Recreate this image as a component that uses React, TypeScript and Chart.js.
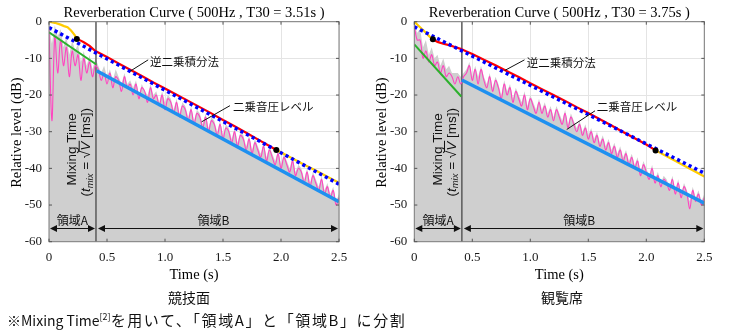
import React, { useEffect, useRef } from "react";
import { Chart, registerables } from "chart.js";
Chart.register(...registerables);

// sample times (s)
const TIME = [0,0.025,0.05,0.075,0.1,0.125,0.15,0.175,0.2,0.225,0.25,0.275,0.3,0.325,0.35,0.375,0.4,0.425,0.45,0.475,0.5,0.525,0.55,0.575,0.6,0.625,0.65,0.675,0.7,0.725,0.75,0.775,0.8,0.825,0.85,0.875,0.9,0.925,0.95,0.975,1,1.025,1.05,1.075,1.1,1.125,1.15,1.175,1.2,1.225,1.25,1.275,1.3,1.325,1.35,1.375,1.4,1.425,1.45,1.475,1.5,1.525,1.55,1.575,1.6,1.625,1.65,1.675,1.7,1.725,1.75,1.775,1.8,1.825,1.85,1.875,1.9,1.925,1.95,1.975,2,2.025,2.05,2.075,2.1,2.125,2.15,2.175,2.2,2.225,2.25,2.275,2.3,2.325,2.35,2.375,2.4,2.425,2.45,2.475,2.5];

const X_TICKS = [0, 0.5, 1, 1.5, 2, 2.5];
const Y_TICKS = [0, -10, -20, -30, -40, -50, -60];

// ---- 競技面 (left) ----
const L_PINK = [-2,-27,-4,-14,-5,-12,-7,-15,-8,-12,-9,-16,-10,-14,-11,-15,-12,
  -13,-16,-14,-17,-14,-18,-15,-16,-19,-15,-18,-17,-20,-17,-21,-18,-19,-22,-18,-21,-20,-23,-20,-24,
  -21,-22,-25,-22,-26,-23,-24,-27,-24,-28,-25,-26,-29,-26,-30,-27,-28,-31,-28,-32,
  -29,-30,-33,-30,-34,-31,-32,-35,-32,-36,-33,-35,-37,-34,-38,-35,-37,-39,-36,-40,
  -37,-39,-41,-38,-42,-40,-41,-44,-41,-45,-42,-44,-46,-43,-47,-45,-48,-46,-50,-48];
const L_GRAY = [-1,-6,-1,-4,-2,-7,-4,-9,-5,-8,-6,-11,-8,-12,-9,-13,-10,
  -12,-14,-12,-15,-13,-16,-13,-15,-17,-14,-17,-16,-18,-16,-20,-17,-19,-20,-17,-20,-19,-22,-19,-22,
  -20,-21,-24,-21,-25,-22,-23,-26,-23,-27,-24,-25,-28,-25,-29,-26,-27,-30,-27,-31,
  -28,-29,-32,-29,-33,-30,-31,-34,-31,-35,-32,-34,-36,-33,-37,-34,-36,-38,-35,-39,
  -36,-38,-40,-37,-41,-39,-40,-43,-40,-44,-41,-43,-45,-42,-46,-44,-47,-45,-49,-47];
const L_GREEN = [[0, -2.9], [0.405, -11.6]];
const L_BLUE = [[0.41, -13.4], [2.5, -49.1]];
const L_DOTTED = [[0, -1.6], [2.5, -44.3]];
const L_YELLOW_HEAD = [[0, 0], [0.05, -0.3], [0.1, -0.8], [0.13, -1.2], [0.16, -1.5], [0.19, -2.4], [0.22, -3.6], [0.24, -4.7]];
const L_RED = [[0.24, -4.7], [0.27, -5.1], [0.3, -5.6], [0.35, -6.6], [0.4, -8.0], [0.45, -8.8], [0.5, -9.6], [0.6, -11.4], [0.7, -13.1], [0.8, -14.8], [0.9, -16.6], [1.0, -18.2], [1.1, -19.9], [1.2, -21.6], [1.3, -23.3], [1.4, -25.0], [1.5, -26.8], [1.6, -28.5], [1.7, -30.3], [1.8, -32.1], [1.9, -33.9], [1.96, -35.0]];
const L_YELLOW_TAIL = [[1.96, -35.0], [2.1, -37.3], [2.2, -39.0], [2.3, -40.6], [2.4, -42.3], [2.5, -43.9]];
const L_DOTS = [[0.24, -4.7], [1.96, -35.0]];
const L_MIX = 0.405;

// ---- 観覧席 (right) ----
const R_PINK = [-1,-5,-5,-10,-8,-11,-9,-12,-11,-14,-12,-15,-14,-15,-17,-15,-17,
  -15,-14,-12,-16,-13,-17,-13,-16,-18,-15,-19,-16,-18,-21,-17,-20,-18,-22,-19,-21,-23,-20,-24,-21,
  -23,-25,-22,-25,-23,-26,-24,-27,-24,-26,-28,-25,-29,-26,-28,-30,-28,-31,-29,-32,
  -30,-33,-31,-34,-32,-35,-33,-36,-34,-37,-35,-38,-36,-39,-37,-40,-38,-42,-39,-41,
  -43,-40,-44,-42,-45,-43,-44,-46,-43,-47,-44,-48,-45,-47,-51,-46,-49,-47,-50,-48];
const R_GRAY = [-1,-3,-2,-7,-5,-9,-7,-10,-9,-12,-10,-13,-12,-14,-14,-14,-15,
  -14,-13,-11,-15,-12,-15,-12,-15,-17,-14,-18,-15,-17,-20,-16,-19,-17,-21,-18,-20,-22,-19,-23,-20,
  -22,-24,-21,-24,-22,-25,-23,-26,-23,-25,-27,-24,-28,-25,-27,-29,-27,-30,-28,-31,
  -29,-32,-30,-33,-31,-34,-32,-35,-33,-36,-34,-37,-35,-38,-36,-39,-37,-41,-38,-40,
  -42,-39,-43,-41,-44,-42,-43,-45,-42,-46,-43,-47,-44,-46,-49,-45,-48,-46,-49,-47];
const R_GREEN = [[0, -6.2], [0.405, -20.4]];
const R_BLUE = [[0.41, -15.9], [2.5, -49.5]];
const R_DOTTED = [[0, -1.4], [2.5, -41.3]];
const R_YELLOW_HEAD = [[0, 0], [0.05, -1.5], [0.1, -3.0], [0.13, -4.0], [0.16, -4.8]];
const R_RED = [[0.16, -4.8], [0.2, -5.5], [0.25, -6.0], [0.3, -6.4], [0.35, -6.9], [0.4, -7.4], [0.45, -8.1], [0.5, -8.8], [0.6, -10.4], [0.7, -11.9], [0.8, -13.5], [0.9, -15.1], [1.0, -16.8], [1.1, -18.4], [1.2, -20.0], [1.3, -21.6], [1.4, -23.3], [1.5, -24.9], [1.6, -26.6], [1.7, -28.3], [1.8, -30.1], [1.9, -31.8], [2.0, -33.5], [2.08, -35.1]];
const R_YELLOW_TAIL = [[2.08, -35.1], [2.2, -37.1], [2.3, -38.8], [2.4, -40.5], [2.5, -42.2]];
const R_DOTS = [[0.16, -4.8], [2.08, -35.1]];
const R_MIX = 0.41;

type Pt = number[];
type Anno = { text: string; tx: number; ty: number; l: Pt[] };
type PanelCfg = {
  title: string;
  axisW: number;
  pink: number[];
  gray: number[];
  green: Pt[];
  blue: Pt[];
  dotted: Pt[];
  yHead: Pt[];
  red: Pt[];
  yTail: Pt[];
  dots: Pt[];
  mix: number;
  annos: Anno[];
};

const LEFT: PanelCfg = {
  title: "Reverberation Curve ( 500Hz , T30 = 3.51s )",
  axisW: 49,
  pink: L_PINK, gray: L_GRAY, green: L_GREEN, blue: L_BLUE, dotted: L_DOTTED,
  yHead: L_YELLOW_HEAD, red: L_RED, yTail: L_YELLOW_TAIL, dots: L_DOTS, mix: L_MIX,
  annos: [
    { text: "逆二乗積分法", tx: 0.87, ty: -11.0, l: [[0.855, -10.4], [0.7, -13.5]] },
    { text: "二乗音圧レベル", tx: 1.586, ty: -23.2, l: [[1.56, -22.9], [1.316, -27.3]] },
  ],
};
const RIGHT: PanelCfg = {
  title: "Reverberation Curve ( 500Hz , T30 = 3.75s )",
  axisW: 44.3,
  pink: R_PINK, gray: R_GRAY, green: R_GREEN, blue: R_BLUE, dotted: R_DOTTED,
  yHead: R_YELLOW_HEAD, red: R_RED, yTail: R_YELLOW_TAIL, dots: R_DOTS, mix: R_MIX,
  annos: [
    { text: "逆二乗積分法", tx: 0.969, ty: -11.1, l: [[0.95, -10.4], [0.78, -13.3]] },
    { text: "二乗音圧レベル", tx: 1.572, ty: -23.2, l: [[1.558, -24.3], [1.314, -29.4]] },
  ],
};

const CW = 370;
const CH = 290;
const PLOT_W = 290;
const PLOT_TOP = 21.7;
const PLOT_BOTTOM = 241.7;
const SERIF = '"Liberation Serif", "Times New Roman", serif';
const SANS = '"Liberation Sans", Arial, sans-serif';
const JP = '"Noto Sans CJK JP", "Noto Sans", sans-serif';

const toXY = (p: Pt[]) => p.map((q) => ({ x: q[0], y: q[1] }));

function makeDecor(cfg: PanelCfg) {
  return {
    id: "decor",
    afterDatasetsDraw(chart: any) {
      const { ctx, chartArea: a, scales } = chart;
      const x = scales.x;
      const y = scales.y;
      const px = (v: number) => x.getPixelForValue(v);
      const py = (v: number) => y.getPixelForValue(v);
      ctx.save();
      // box
      ctx.strokeStyle = "#7a7a7a";
      ctx.lineWidth = 1;
      ctx.strokeRect(a.left, a.top, a.right - a.left, a.bottom - a.top);
      // inward ticks
      ctx.strokeStyle = "#555";
      ctx.beginPath();
      X_TICKS.forEach((v) => {
        const p = px(v);
        ctx.moveTo(p, a.bottom); ctx.lineTo(p, a.bottom - 3);
        ctx.moveTo(p, a.top); ctx.lineTo(p, a.top + 3);
      });
      Y_TICKS.forEach((v) => {
        const p = py(v);
        ctx.moveTo(a.left, p); ctx.lineTo(a.left + 3, p);
        ctx.moveTo(a.right, p); ctx.lineTo(a.right - 3, p);
      });
      ctx.stroke();

      // annotations
      ctx.fillStyle = "#111";
      ctx.strokeStyle = "#111";
      ctx.lineWidth = 1;
      ctx.font = `11.5px ${JP}`;
      ctx.textAlign = "left";
      ctx.textBaseline = "middle";
      cfg.annos.forEach((an) => {
        ctx.fillText(an.text, px(an.tx), py(an.ty));
        ctx.beginPath();
        ctx.moveTo(px(an.l[0][0]), py(an.l[0][1]));
        ctx.lineTo(px(an.l[1][0]), py(an.l[1][1]));
        ctx.stroke();
      });

      // region arrows
      const arrY = py(-56.4);
      const arrow = (x1: number, x2: number) => {
        ctx.beginPath();
        ctx.moveTo(x1 + 2, arrY); ctx.lineTo(x2 - 2, arrY);
        ctx.stroke();
        const h = 7, w = 3.5;
        ctx.beginPath();
        ctx.moveTo(x1, arrY); ctx.lineTo(x1 + h, arrY - w); ctx.lineTo(x1 + h, arrY + w); ctx.closePath();
        ctx.fill();
        ctx.beginPath();
        ctx.moveTo(x2, arrY); ctx.lineTo(x2 - h, arrY - w); ctx.lineTo(x2 - h, arrY + w); ctx.closePath();
        ctx.fill();
      };
      const mixPx = px(cfg.mix);
      arrow(a.left + 1, mixPx - 1);
      arrow(mixPx + 2, a.right - 1);
      ctx.font = `12px ${JP}`;
      ctx.textAlign = "center";
      ctx.textBaseline = "middle";
      ctx.fillText("領域A", (a.left + mixPx) / 2, arrY - 8.5);
      ctx.fillText("領域B", (mixPx + a.right) / 2 - 4, arrY - 8.5);

      // Mixing Time text (rotated)
      const cy = py(-34.8);
      ctx.save();
      ctx.translate(px(0.205), cy);
      ctx.rotate(-Math.PI / 2);
      ctx.font = `13.5px ${SANS}`;
      ctx.fillText("Mixing Time", 0, 0);
      ctx.restore();

      ctx.save();
      ctx.translate(px(0.325), cy + 3);
      ctx.rotate(-Math.PI / 2);
      const fN = `13.5px ${SANS}`;
      const fI = `italic 13.5px ${SANS}`;
      const fS = `italic 9.5px ${SANS}`;
      const parts: [string, string, number][] = [
        ["(", fN, 0], ["t", fI, 0], ["mix", fS, 3.5], [" = \u221A", fN, 0], ["V", fI, 0], [" [ms])", fN, 0],
      ];
      let total = 0;
      parts.forEach((p) => { ctx.font = p[1]; total += ctx.measureText(p[0]).width; });
      let cx = -total / 2;
      ctx.textAlign = "left";
      parts.forEach((p) => {
        ctx.font = p[1];
        const w = ctx.measureText(p[0]).width;
        ctx.fillText(p[0], cx, p[2]);
        if (p[0] === "V") {
          ctx.beginPath();
          ctx.moveTo(cx - 1, -7.5); ctx.lineTo(cx + w + 1, -7.5);
          ctx.stroke();
        }
        cx += w;
      });
      ctx.restore();

      // titles
      ctx.fillStyle = "#000";
      ctx.textAlign = "center";
      ctx.textBaseline = "middle";
      ctx.font = `14.5px ${SERIF}`;
      ctx.fillText(cfg.title, (a.left + a.right) / 2, a.top - 9);
      ctx.fillText("Time (s)", (a.left + a.right) / 2, 275);
      ctx.save();
      ctx.translate(a.left - 32, (a.top + a.bottom) / 2 + 1);
      ctx.rotate(-Math.PI / 2);
      ctx.fillText("Relative level (dB)", 0, 0);
      ctx.restore();
      ctx.restore();
    },
  };
}

function Panel({ cfg, left }: { cfg: PanelCfg; left: number }) {
  const ref = useRef<HTMLCanvasElement>(null);
  useEffect(() => {
    const lineDs = (data: any[], color: string, width: number, order: number, extra: any = {}) => ({
      data, borderColor: color, backgroundColor: color, borderWidth: width, pointRadius: 0,
      fill: false, order, tension: 0, ...extra,
    });
    const chart = new Chart(ref.current as HTMLCanvasElement, {
      type: "line",
      data: {
        datasets: [
          lineDs(toXY(cfg.dots), "#000", 0, 1, { showLine: false, pointRadius: 3, pointBackgroundColor: "#000", pointBorderWidth: 0 }),
          lineDs(toXY(cfg.dotted), "#0000ff", 3.5, 2, { borderDash: [3.2, 3.2], borderCapStyle: "butt" }),
          lineDs(toXY(cfg.yTail), "#ffcc00", 2.2, 3),
          lineDs(toXY(cfg.red), "#ff0000", 2.2, 4),
          lineDs(toXY(cfg.yHead), "#ffcc00", 2.2, 5),
          lineDs(toXY(cfg.blue), "#1e90f0", 3.5, 6),
          lineDs(toXY(cfg.green), "#2cb02c", 2, 7),
          lineDs(TIME.map((t, i) => ({ x: t, y: cfg.pink[i] })), "#ff45c0", 1.1, 8, { tension: 0.35 }),
          lineDs([{ x: cfg.mix, y: 0 }, { x: cfg.mix, y: -60 }], "#5a5a5a", 1.5, 9),
          lineDs(TIME.map((t, i) => ({ x: t, y: cfg.gray[i] })), "#cfcfcf", 0, 10, { fill: "start", backgroundColor: "#cfcfcf" }),
        ],
      },
      options: {
        animation: false,
        responsive: false,
        devicePixelRatio: 1,
        layout: { padding: { left: 0, right: CW - cfg.axisW - PLOT_W, top: PLOT_TOP, bottom: 0 } },
        plugins: { legend: { display: false }, tooltip: { enabled: false }, title: { display: false } },
        scales: {
          x: {
            type: "linear", min: 0, max: 2.5,
            afterBuildTicks: (s: any) => { s.ticks = X_TICKS.map((v) => ({ value: v })); },
            ticks: { font: { family: SERIF, size: 13 }, color: "#1a1a1a", padding: 8, maxRotation: 0, autoSkip: false },
            grid: { color: "#e4e4e4", drawTicks: false },
            border: { display: false },
            afterFit: (s: any) => { s.height = CH - PLOT_BOTTOM; },
          },
          y: {
            type: "linear", min: -60, max: 0,
            afterBuildTicks: (s: any) => { s.ticks = Y_TICKS.map((v) => ({ value: v })); },
            ticks: { font: { family: SERIF, size: 13 }, color: "#1a1a1a", padding: 7 },
            grid: { color: "#e4e4e4", drawTicks: false },
            border: { display: false },
            afterFit: (s: any) => { s.width = cfg.axisW; },
          },
        },
      } as any,
      plugins: [makeDecor(cfg)],
    });
    return () => chart.destroy();
  }, [cfg]);
  return (
    <canvas ref={ref} width={CW} height={CH}
      style={{ position: "absolute", left, top: 0, width: CW, height: CH }} />
  );
}

export default function App() {
  return (
    <div style={{ position: "fixed", left: 0, top: 0, width: 740, height: 336, background: "#fff", overflow: "hidden" }}>
      <Panel cfg={LEFT} left={0} />
      <Panel cfg={RIGHT} left={370} />
      <div style={{ position: "absolute", left: 189, top: 297, transform: "translate(-50%,-50%)", font: `14px ${JP}`, color: "#111", whiteSpace: "nowrap" }}>競技面</div>
      <div style={{ position: "absolute", left: 562, top: 297, transform: "translate(-50%,-50%)", font: `14px ${JP}`, color: "#111", whiteSpace: "nowrap" }}>観覧席</div>
      <div style={{ position: "absolute", left: 7, top: 320, transform: "translateY(-50%)", font: `14px ${JP}`, color: "#111", whiteSpace: "nowrap", lineHeight: "18px" }}>
        ※Mixing Time<sup style={{ fontSize: 9, verticalAlign: "6px", lineHeight: 0 }}>[2]</sup>
        <span style={{ fontSize: 15, letterSpacing: "1.6px" }}>を用いて、「領域A」と「領域B」に分割</span>
      </div>
    </div>
  );
}
